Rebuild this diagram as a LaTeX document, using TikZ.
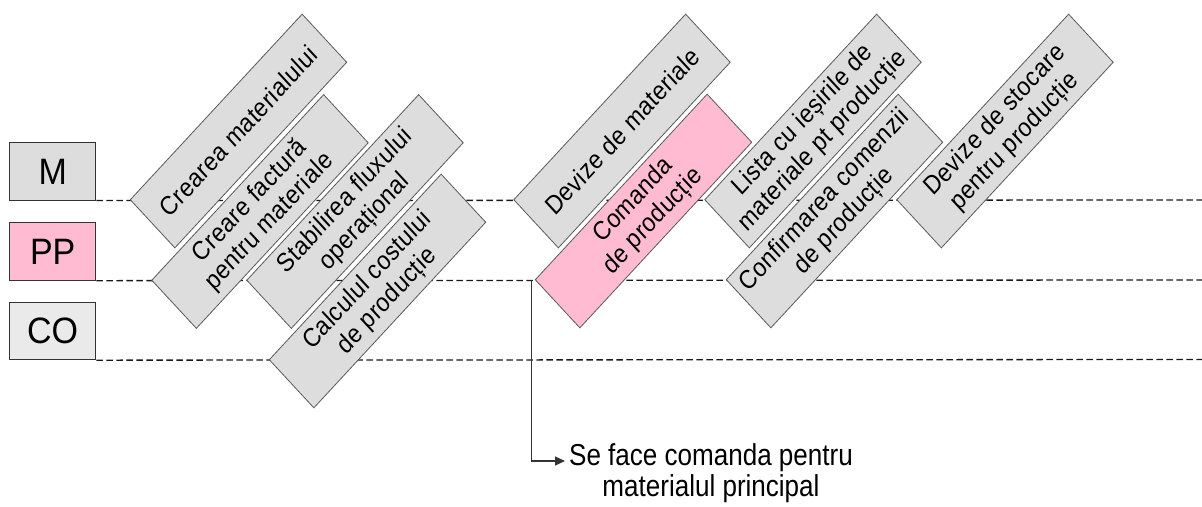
\documentclass[tikz,border=0pt]{standalone}
\usepackage{fontspec}
\setmainfont{Liberation Sans}
\newfontfamily\narrowfont[FakeStretch=0.92,LetterSpace=2]{Liberation Sans}
\newfontfamily\notefont[FakeStretch=0.93]{Liberation Sans}
\newfontfamily\lblfont{Liberation Sans}
\usetikzlibrary{arrows.meta}
\definecolor{boxgray}{HTML}{DDDDDD}
\definecolor{cogray}{HTML}{EAEAEA}
\definecolor{pinkfill}{HTML}{FFBBD2}
\definecolor{edgegray}{HTML}{5A5A5A}
\begin{document}
\begin{tikzpicture}[x=1pt,y=-1pt,
  tbox/.style={draw=edgegray, fill=boxgray, line width=0.8pt, minimum width=243pt, minimum height=63pt, inner sep=0pt, align=center, font=\narrowfont\fontsize{24.5}{27.5}\selectfont, text=black},
  pbox/.style={tbox, fill=pinkfill},
  lane/.style={draw=black!90, line width=1.3pt, dash pattern=on 6.5pt off 3.5pt},
  lbl/.style={draw=black!80, line width=1pt, minimum width=86.5pt, minimum height=53pt, inner sep=0pt, font=\lblfont\fontsize{34}{38}\selectfont},
  tilt/.style={yscale=1.08, rotate=45, transform shape},
  stretch/.style={yscale=1.08, transform shape},
  note/.style={inner sep=0pt, align=center, font=\notefont\fontsize{28}{29.5}\selectfont},
  conn/.style={draw=black!80, line width=1.2pt, -{Triangle[length=10pt,width=9pt]}}
]
\useasboundingbox (0,0) rectangle (1202,506);
% lane labels
\begin{scope}[shift={(52.7,171.4)}, stretch]
  \node[lbl, fill=boxgray] (M) {M};
\end{scope}
\begin{scope}[shift={(52.7,251.5)}, stretch]
  \node[lbl, fill=pinkfill] (PP) {PP};
\end{scope}
\begin{scope}[shift={(52.7,331)}, stretch]
  \node[lbl, fill=cogray] (CO) {CO};
\end{scope}
% lane lines
\coordinate (mEnd) at (1202,200);
\coordinate (pEnd) at (1202,280);
\coordinate (cEnd) at (1202,359.5);
\draw[lane] (M.south east) -- (mEnd);
\draw[lane] (PP.south east) -- (pEnd);
\draw[lane] (CO.south east) -- (cEnd);
% tilted boxes
\begin{scope}[shift={(238.5,131)}, tilt]
  \node[tbox] (b1) {Crearea materialului};
\end{scope}
\begin{scope}[shift={(260,211.5)}, tilt]
  \node[tbox] (b2) {Creare factură\\pentru materiale};
\end{scope}
\begin{scope}[shift={(355,211.5)}, tilt]
  \node[tbox] (b3) {Stabilirea fluxului\\operațional};
\end{scope}
\begin{scope}[shift={(377.5,291)}, tilt]
  \node[tbox] (b4) {Calculul costului\\de producție};
\end{scope}
\begin{scope}[shift={(622,131)}, tilt]
  \node[tbox] (b5) {Devize de materiale};
\end{scope}
\begin{scope}[shift={(643.5,211)}, tilt]
  \node[pbox] (b6) {Comanda\\de producție};
\end{scope}
\begin{scope}[shift={(813,131)}, tilt]
  \node[tbox] (b7) {Lista cu ieșirile de\\materiale pt producție};
\end{scope}
\begin{scope}[shift={(834.5,211)}, tilt]
  \node[tbox] (b8) {Confirmarea comenzii\\de producție};
\end{scope}
\begin{scope}[shift={(1005,131)}, tilt]
  \node[tbox] (b9) {Devize de stocare\\pentru producție};
\end{scope}
% note
\begin{scope}[shift={(711,443)}, stretch]
  \node[note, anchor=north] (nt) {Se face comanda pentru\\materialul principal};
\end{scope}
\coordinate (tip) at (565,461);
\draw[conn] ([xshift=-3pt]b6.north west) |- (tip);
\end{tikzpicture}
\end{document}
